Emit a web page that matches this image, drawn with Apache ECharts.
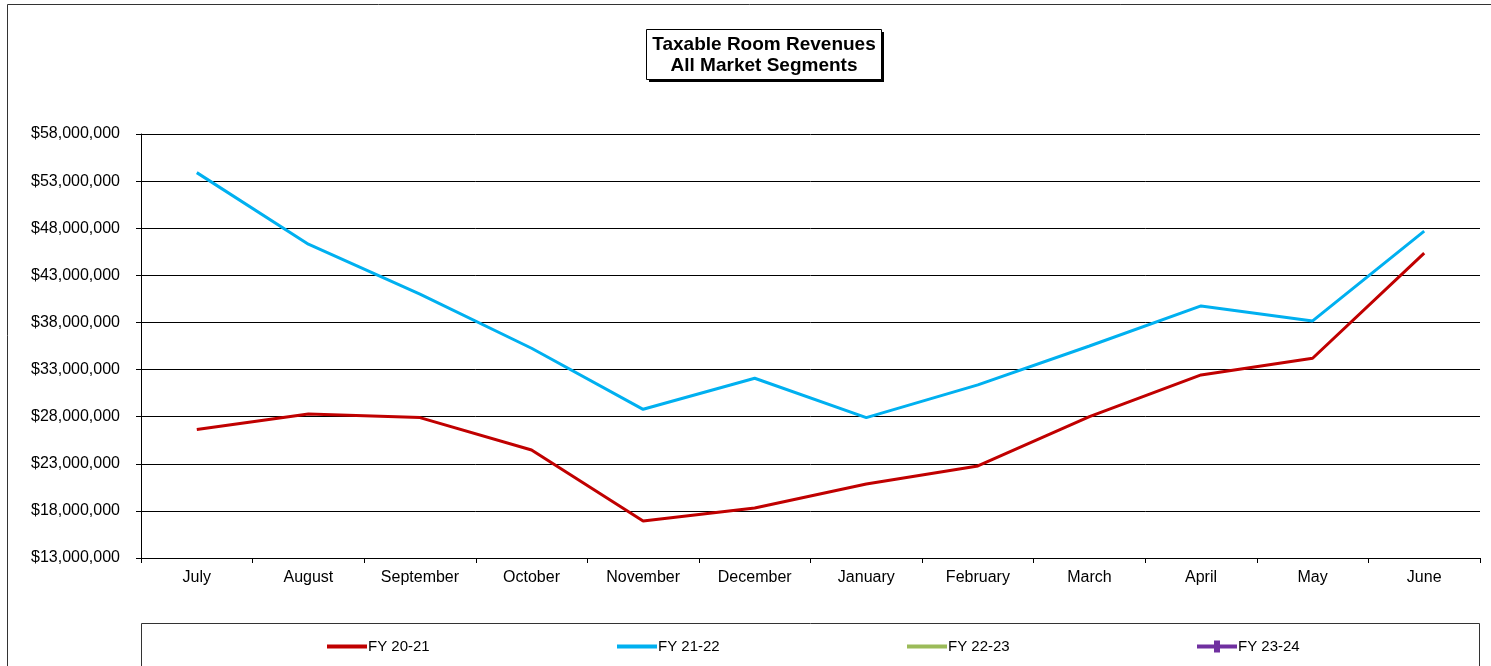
<!DOCTYPE html>
<html>
<head>
<meta charset="utf-8">
<script src="https://cdn.jsdelivr.net/npm/echarts@6/dist/echarts.min.js"></script>
<style>
  html, body { margin: 0; padding: 0; background: #fff; }
  #chart { width: 1491px; height: 666px; }
</style>
</head>
<body>
<div id="chart"></div>
<script>
// months of the fiscal year
const months = ['July', 'August', 'September', 'October', 'November', 'December',
  'January', 'February', 'March', 'April', 'May', 'June']

// taxable room revenues
const fy2021 = [26640000, 28290000, 27900000, 24460000, 16930000, 18300000,
  20860000, 22770000, 28000000, 32430000, 34200000, 45350000]
const fy2122 = [53900000, 46300000, 41000000, 35260000, 28780000, 32080000,
  27900000, 31370000, 35500000, 39750000, 38160000, 47700000]
const fy2223 = []
const fy2324 = []

const seriesNames = ['FY 20-21', 'FY 21-22', 'FY 22-23', 'FY 23-24']
const seriesColors = ['#C00000', '#00B0F0', '#9BBB59', '#7030A0']

const font = 'Arial, "Liberation Sans", sans-serif'

const money = (v) => '$' + v.toLocaleString('en-US')

const chart = echarts.init(document.getElementById('chart'))

const legendLefts = [327, 617, 907, 1197]
// plain thick line, and line with a square marker for the last one
const lineIcon = 'path://M0,4L40,4L40,8L0,8Z'
const markIcon = 'path://M0,4L17,4L17,0L23,0L23,4L40,4L40,8L23,8L23,12L17,12L17,8L0,8Z'
const legendIcons = [lineIcon, lineIcon, lineIcon, markIcon]

chart.setOption({
  animation: false,
  title: {
    text: 'Taxable Room Revenues\nAll Market Segments',
    left: 764,
    top: 34,
    padding: 0,
    textAlign: 'center',
    textStyle: {
      fontFamily: font,
      fontSize: 19,
      fontWeight: 'bold',
      color: '#000',
      lineHeight: 21
    }
  },
  graphic: [
    // outer chart border
    {
      type: 'rect',
      z: -10,
      shape: { x: 7.5, y: 4.5, width: 1520, height: 700 },
      style: { fill: 'none', stroke: '#333', lineWidth: 1 }
    },
    // title box shadow
    {
      type: 'rect',
      z: -5,
      shape: { x: 649, y: 32, width: 235, height: 50 },
      style: { fill: '#000' }
    },
    // title box
    {
      type: 'rect',
      z: -4,
      shape: { x: 646.5, y: 29.5, width: 235, height: 50 },
      style: { fill: '#fff', stroke: '#000', lineWidth: 1 }
    },
    // legend box
    {
      type: 'rect',
      z: -5,
      shape: { x: 141.5, y: 623.5, width: 1338, height: 80 },
      style: { fill: '#fff', stroke: '#333', lineWidth: 1 }
    }
  ],
  legend: seriesNames.map((name, i) => ({
    data: [{ name: name, icon: legendIcons[i] }],
    left: legendLefts[i],
    top: 639,
    padding: 0,
    itemWidth: 40,
    itemHeight: 12,
    itemGap: 0,
    textStyle: { fontFamily: font, fontSize: 15, color: '#000', padding: [0, 0, 0, -4] }
  })),
  grid: {
    left: 141,
    right: 11,
    top: 134,
    bottom: 108
  },
  xAxis: {
    type: 'category',
    data: months,
    boundaryGap: true,
    axisLine: { lineStyle: { color: '#000', width: 1 } },
    axisTick: { show: true, length: 5, lineStyle: { color: '#000' } },
    axisLabel: {
      fontFamily: font,
      fontSize: 16,
      color: '#000',
      margin: 12
    }
  },
  yAxis: {
    type: 'value',
    min: 13000000,
    max: 58000000,
    interval: 5000000,
    axisLine: { show: true, lineStyle: { color: '#000', width: 1 } },
    axisTick: { show: true, length: 5, lineStyle: { color: '#000' } },
    splitLine: { show: true, lineStyle: { color: '#000', width: 1 } },
    axisLabel: {
      fontFamily: font,
      fontSize: 16,
      color: '#000',
      margin: 21,
      formatter: money
    }
  },
  series: [
    {
      name: seriesNames[0],
      type: 'line',
      data: fy2021,
      color: seriesColors[0],
      showSymbol: false,
      symbol: 'none',
      lineStyle: { width: 3 }
    },
    {
      name: seriesNames[1],
      type: 'line',
      data: fy2122,
      color: seriesColors[1],
      showSymbol: false,
      symbol: 'none',
      lineStyle: { width: 3 }
    },
    {
      name: seriesNames[2],
      type: 'line',
      data: fy2223,
      color: seriesColors[2],
      symbol: 'none',
      lineStyle: { width: 3 }
    },
    {
      name: seriesNames[3],
      type: 'line',
      data: fy2324,
      color: seriesColors[3],
      symbol: 'rect',
      symbolSize: 7,
      lineStyle: { width: 3 }
    }
  ]
})
</script>
</body>
</html>
